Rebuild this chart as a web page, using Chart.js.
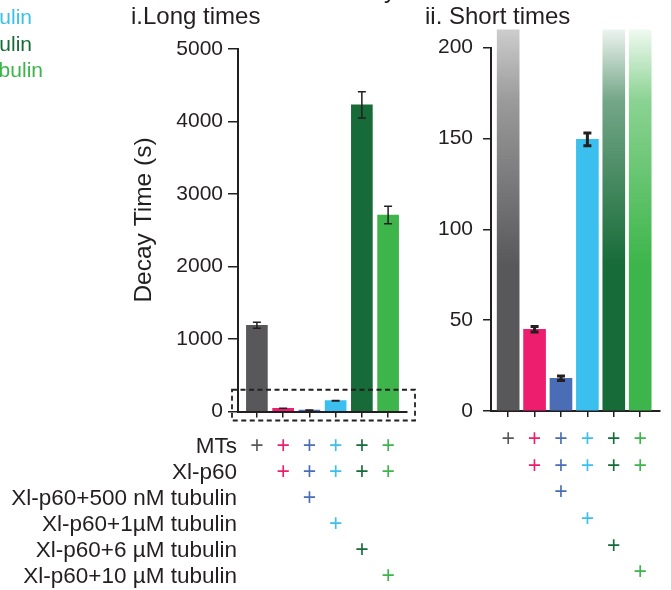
<!DOCTYPE html>
<html>
<head>
<meta charset="utf-8">
<script src="https://cdn.jsdelivr.net/npm/chart.js@4.4.1/dist/chart.umd.min.js"></script>
<style>
  body { margin:0; background:#fff; font-family:"Liberation Sans", Arial, sans-serif; color:#231f20; }
  #wrap { position:relative; width:671px; height:590px; overflow:hidden; background:#fff; }
  canvas { position:absolute; top:0; }
  .txt { position:absolute; white-space:nowrap; line-height:1; }
</style>
</head>
<body>
<div id="wrap">
  <canvas id="longChart" width="420" height="590" style="left:0"></canvas>
  <canvas id="shortChart" width="251" height="590" style="left:420px"></canvas>
  <div class="txt" style="left:131px;top:4px;font-size:24px">i.Long times</div>
  <div class="txt" style="left:425px;top:4px;font-size:24px">ii. Short times</div>
  <div class="txt" style="left:384px;top:-22px;font-size:24px">y</div>
  <div id="legendBits"></div>
</div>
<script>
// ===============================
// DATA
// ===============================
const samples   = ['MTs', 'p60', 'p60+500nM', 'p60+1uM', 'p60+6uM', 'p60+10uM'];
const decayTime = [1190, 45, 18, 149.5, 4230, 2710];
const decayErr  = [40, 1.5, 1.2, 3.5, 180, 120];
const barColors = ['#58585a', '#ec1e6d', '#4a6db5', '#3bbfee', '#176b38', '#3db54a'];

const conditions = [
  'MTs',
  'Xl-p60',
  'Xl-p60+500 nM tubulin',
  'Xl-p60+1\u00b5M tubulin',
  'Xl-p60+6 \u00b5M tubulin',
  'Xl-p60+10 \u00b5M tubulin'
];
// which condition gets a "+" under each bar
const present = [
  [1,1,1,1,1,1],
  [0,1,1,1,1,1],
  [0,0,1,0,0,0],
  [0,0,0,1,0,0],
  [0,0,0,0,1,0],
  [0,0,0,0,0,1]
];

const longMax = 5000, longStep = 1000;
const shortMax = 200, shortStep = 50;
const zoomLimit = 300;   // dashed box in panel i
const yTitle = 'Decay Time (s)';

// cut off legend at the top left
const legendText = ['Xl-p60+1\u00b5M tubulin', 'Xl-p60+6 \u00b5M tubulin', 'Xl-p60+10 \u00b5M tubulin'];
const legendColors = [barColors[3], barColors[4], barColors[5]];

const ink = '#231f20';
const FONT = '"Liberation Sans", Arial, sans-serif';
Chart.defaults.font.family = FONT;
Chart.defaults.color = ink;

// legend fragments (right edges fall inside the page)
const legendRight = [32, 32, 43];
legendText.forEach((t, i) => {
  const d = document.createElement('div');
  d.className = 'txt';
  d.textContent = t;
  d.style.cssText = `right:${671 - legendRight[i]}px;top:${6 + i * 26.5}px;font-size:21px;color:${legendColors[i]}`;
  document.getElementById('legendBits').appendChild(d);
});

function rgba(hex, a){
  const n = parseInt(hex.slice(1), 16);
  return `rgba(${n >> 16},${(n >> 8) & 255},${n & 255},${a})`;
}

// ===============================
// PLUGINS
// ===============================
const errorBars = {
  id: 'errorBars',
  afterDatasetsDraw(chart, args, opts){
    const {ctx, scales:{x, y}} = chart;
    ctx.save();
    ctx.strokeStyle = ink;
    ctx.lineWidth = opts.width;
    decayTime.forEach((v, i) => {
      if (v + decayErr[i] > y.max) return;
      const px = x.getPixelForValue(i);
      const t = y.getPixelForValue(v + decayErr[i]);
      const b = y.getPixelForValue(v - decayErr[i]);
      ctx.beginPath();
      ctx.moveTo(px, t); ctx.lineTo(px, b);
      ctx.moveTo(px - opts.cap, t); ctx.lineTo(px + opts.cap, t);
      ctx.moveTo(px - opts.cap, b); ctx.lineTo(px + opts.cap, b);
      ctx.stroke();
    });
    ctx.restore();
  }
};

// condition names left of the "+" table, and the y title
const rowLabels = {
  id: 'rowLabels',
  afterDraw(chart){
    const {ctx, chartArea, scales:{x}} = chart;
    const lh = Chart.helpers.toFont(x.options.ticks.font).lineHeight;
    const start = x.top + x.options.grid.tickLength + x.options.ticks.padding;
    ctx.save();
    ctx.font = '22.5px ' + FONT;
    ctx.fillStyle = ink;
    ctx.textAlign = 'right';
    ctx.textBaseline = 'middle';
    conditions.forEach((t, r) => {
      ctx.fillText(t, chartArea.left - 1, start + lh / 2 + r * lh);
    });

    ctx.translate(144, 220);
    ctx.rotate(-Math.PI / 2);
    ctx.textAlign = 'center';
    ctx.font = '24.5px ' + FONT;
    ctx.fillText(yTitle, 0, 0);
    ctx.restore();
  }
};

const zoomBox = {
  id: 'zoomBox',
  afterDraw(chart){
    const {ctx, chartArea:a, scales:{y}} = chart;
    const top = y.getPixelForValue(zoomLimit);
    ctx.save();
    ctx.strokeStyle = ink;
    ctx.lineWidth = 1.8;
    ctx.setLineDash([5, 3.5]);
    ctx.strokeRect(a.left - 6, top, (a.right + 8) - (a.left - 6), a.bottom + 9 - top);
    ctx.restore();
  }
};

// ===============================
// SHARED AXIS BUILDERS
// ===============================
function xAxis(min, max, pad, lh){
  return {
    type: 'linear', min, max, offset: false,
    afterBuildTicks: s => { s.ticks = samples.map((_, i) => ({value: i})); },
    ticks: {
      autoSkip: false, maxRotation: 0, minRotation: 0, padding: pad,
      font: {size: 23, lineHeight: lh},
      color: c => barColors[c.index],
      callback: (v, i) => present.map(r => r[i] ? '+' : '')
    },
    grid: {drawOnChartArea: false, offset: false, tickLength: 6, color: ink, lineWidth: 1.5},
    border: {color: ink, width: 2}
  };
}

function yAxis(max, step, pad, tick){
  return {
    min: 0, max,
    ticks: {stepSize: step, padding: pad, font: {size: 21}, color: ink, callback: v => String(v)},
    grid: {drawOnChartArea: false, tickLength: tick, color: ink, lineWidth: 1.5},
    border: {color: ink, width: 2}
  };
}

// ===============================
// i. LONG TIMES
// ===============================
const longX = xAxis(-0.72, 5.72, 16.5, '26px');
longX.afterFit = s => { s.height = 590 - 411.5; };
const longY = yAxis(longMax, longStep, 5, 10);
longY.afterFit = s => { s.width = 238; };

new Chart(document.getElementById('longChart'), {
  type: 'bar',
  data: {
    datasets: [{
      data: decayTime.map((v, i) => ({x: i, y: v})),
      backgroundColor: barColors,
      barThickness: 21,
      borderWidth: 0
    }]
  },
  options: {
    responsive: false,
    animation: false,
    layout: {padding: {left: 0, top: 49, right: 13, bottom: 0}},
    plugins: {legend: {display: false}, tooltip: {enabled: false}, errorBars: {width: 1.5, cap: 4}},
    scales: {x: longX, y: longY}
  },
  plugins: [errorBars, rowLabels, zoomBox]
});

// ===============================
// ii. SHORT TIMES
// ===============================
const shortX = xAxis(-0.65, 5.75, 9.5, '26.6px');
shortX.afterFit = s => { s.height = 590 - 411; };
const shortY = yAxis(shortMax, shortStep, 10, 8);
shortY.afterFit = s => { s.width = 71; };

function shortColor(c){
  const i = c.dataIndex;
  const col = barColors[i];
  const area = c.chart.chartArea;
  if (decayTime[i] <= shortMax || !area) return col;
  // off-scale bars fade out at the top
  const g = c.chart.ctx.createLinearGradient(0, area.top - 18, 0, area.top + (area.bottom - area.top) * 0.6);
  const a0 = i === 0 ? 0.3 : 0.08;
  g.addColorStop(0, rgba(col, a0));
  g.addColorStop(0.3, rgba(col, 0.6));
  g.addColorStop(1, rgba(col, 1));
  return g;
}

new Chart(document.getElementById('shortChart'), {
  type: 'bar',
  data: {
    datasets: [{
      data: decayTime.map((v, i) => ({x: i, y: v})),
      backgroundColor: shortColor,
      barThickness: 22,
      borderWidth: 0,
      clip: {left: 0, top: 18, right: 0, bottom: 0}
    }]
  },
  options: {
    responsive: false,
    animation: false,
    layout: {padding: {left: 0, top: 47.5, right: 11, bottom: 0}},
    plugins: {legend: {display: false}, tooltip: {enabled: false}, errorBars: {width: 3, cap: 4}},
    scales: {x: shortX, y: shortY}
  },
  plugins: [errorBars]
});
</script>
</body>
</html>
